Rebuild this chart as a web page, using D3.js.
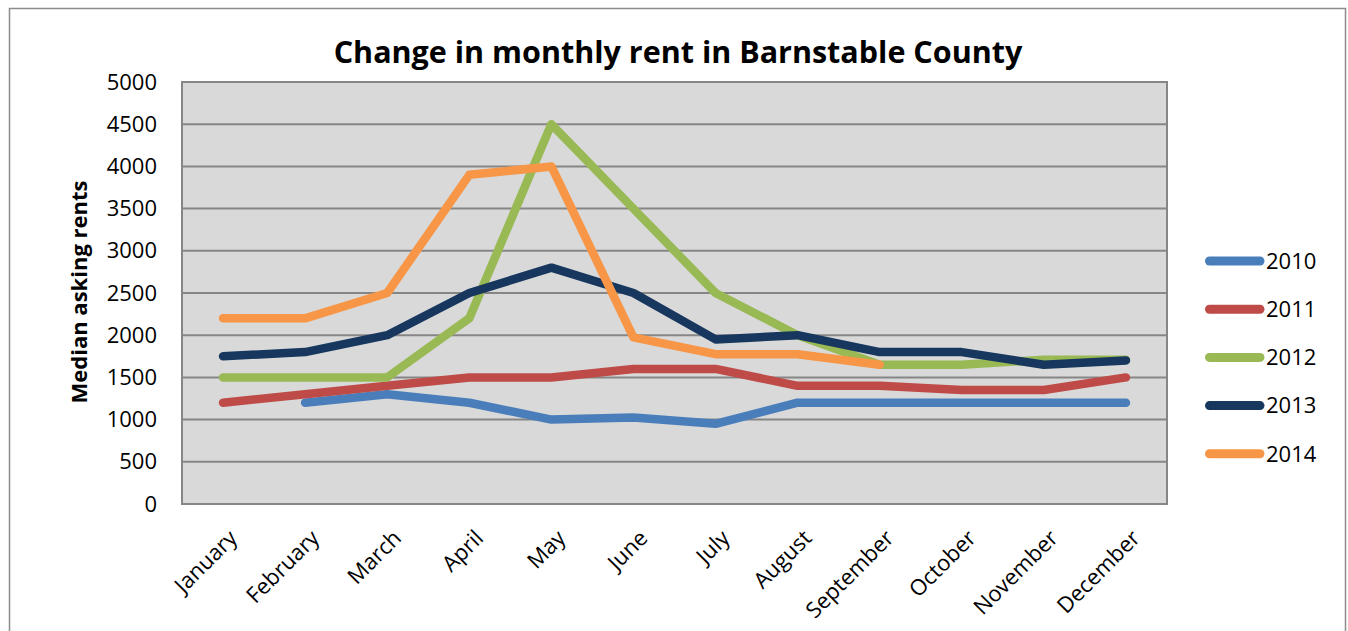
<html>
<head>
  <script src="https://d3js.org/d3.v7.min.js"></script>
  <style>
    body { margin: 0; background: white; }
    text { font-family: "Open Sans", Lato, sans-serif; fill: black; }
    .title { font-size: 30.5px; font-weight: bold; }
    .ylabel { font-size: 22px; font-weight: bold; }
    .tick text, .legend text { font-size: 22px; }
    .grid line { stroke: #868686; stroke-width: 2px; }
    .series { fill: none; stroke-width: 8.5px; stroke-linejoin: round; stroke-linecap: round; }
  </style>
</head>
<body>
<svg id="chart" width="1348" height="631"></svg>
<script>
  const months = ["January", "February", "March", "April", "May", "June",
                  "July", "August", "September", "October", "November", "December"];
  const years = ["2010", "2011", "2012", "2013", "2014"];
  const colors = ["#4a7ebb", "#be4b48", "#98b954", "#17375e", "#f79646"];
  const yTicks = [0, 500, 1000, 1500, 2000, 2500, 3000, 3500, 4000, 4500, 5000];

  // null = no value that month
  const rent2010 = [null, 1200, 1300, 1200, 1000, 1025, 950, 1200, 1200, 1200, 1200, 1200];
  const rent2011 = [1200, 1300, 1400, 1500, 1500, 1600, 1600, 1400, 1400, 1350, 1350, 1500];
  const rent2012 = [1500, 1500, 1500, 2200, 4500, 3500, 2500, 2000, 1650, 1650, 1710, 1710];
  const rent2013 = [1750, 1800, 2000, 2500, 2800, 2500, 1950, 2000, 1800, 1800, 1650, 1700];
  const rent2014 = [2200, 2200, 2500, 3900, 4000, 1975, 1775, 1775, 1650, null, null, null];
  const series = [rent2010, rent2011, rent2012, rent2013, rent2014];

  const svg = d3.select("#chart");
  const plot = { left: 182, right: 1167, top: 82, bottom: 504 };

  // outer frame
  svg.append("rect")
    .attr("x", 9.5).attr("y", 8.5)
    .attr("width", 1336).attr("height", 640)
    .attr("fill", "white").attr("stroke", "#8c8c8c").attr("stroke-width", 1.5);

  const x = d3.scaleBand().domain(months).range([plot.left, plot.right]);
  const y = d3.scaleLinear().domain([0, 5000]).range([plot.bottom, plot.top]);
  const xc = m => x(m) + x.bandwidth() / 2;

  svg.append("rect")
    .attr("x", plot.left).attr("y", plot.top)
    .attr("width", plot.right - plot.left).attr("height", plot.bottom - plot.top)
    .attr("fill", "#d9d9d9");

  // gridlines
  svg.append("g").attr("class", "grid")
    .selectAll("line").data(yTicks).join("line")
    .attr("x1", plot.left).attr("x2", plot.right)
    .attr("y1", d => y(d)).attr("y2", d => y(d));

  svg.append("rect")
    .attr("x", plot.left).attr("y", plot.top)
    .attr("width", plot.right - plot.left).attr("height", plot.bottom - plot.top)
    .attr("fill", "none").attr("stroke", "#868686").attr("stroke-width", 2);

  // y axis
  const yAxis = svg.append("g")
    .attr("transform", `translate(${plot.left},0)`)
    .call(d3.axisLeft(y).tickValues(yTicks).tickFormat(d => d).tickSize(0).tickPadding(25));
  yAxis.select(".domain").remove();
  yAxis.selectAll("text").attr("font-family", null).attr("font-size", null);

  // x axis
  const xAxis = svg.append("g")
    .attr("transform", `translate(0,${plot.bottom})`)
    .call(d3.axisBottom(x).tickSize(0));
  xAxis.select(".domain").remove();
  xAxis.selectAll("text")
    .attr("font-family", null).attr("font-size", null)
    .attr("y", 0).attr("dy", "0.35em")
    .attr("text-anchor", "end")
    .attr("transform", "translate(10,30) rotate(-45)");

  // lines
  const line = d3.line()
    .defined(d => d.v != null)
    .x(d => xc(d.m))
    .y(d => y(d.v));

  svg.append("g").selectAll("path").data(series).join("path")
    .attr("class", "series")
    .attr("stroke", (d, i) => colors[i])
    .attr("d", d => line(d.map((v, i) => ({ m: months[i], v: v }))));

  // titles
  svg.append("text").attr("class", "title")
    .attr("x", 678).attr("y", 63)
    .attr("text-anchor", "middle")
    .text("Change in monthly rent in Barnstable County");

  svg.append("text").attr("class", "ylabel")
    .attr("transform", "translate(87,292) rotate(-90)")
    .attr("text-anchor", "middle")
    .text("Median asking rents");

  // legend
  const legend = svg.append("g").attr("class", "legend")
    .selectAll("g").data(years).join("g")
    .attr("transform", (d, i) => `translate(1205,${261 + i * 48.2})`);
  legend.append("line")
    .attr("x1", 4.5).attr("x2", 55)
    .attr("stroke", (d, i) => colors[i])
    .attr("stroke-width", 9).attr("stroke-linecap", "round");
  legend.append("text")
    .attr("x", 61).attr("dy", "0.35em")
    .text(d => d);
</script>
</body>
</html>
